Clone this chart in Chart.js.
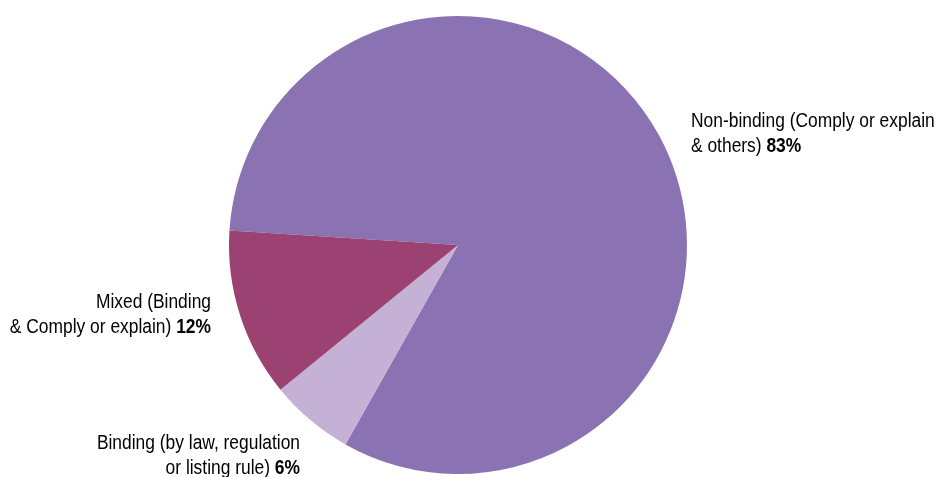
<!DOCTYPE html>
<html>
<head>
<meta charset="utf-8">
<script src="https://cdn.jsdelivr.net/npm/chart.js@4"></script>
<style>
    html, body { margin: 0; padding: 0; background: #ffffff; }
    #wrap { width: 936px; height: 477px; position: relative; }
</style>
</head>
<body>
<div id="wrap"><canvas id="regimeChart"></canvas></div>
<script>
const categories = [
    "Non-binding (Comply or explain & others)",
    "Binding (by law, regulation or listing rule)",
    "Mixed (Binding & Comply or explain)",
];
const shares = [83, 6, 12];
const sliceColors = ["#8b73b3", "#c6b1d6", "#9b4272"];

// label text split into lines; the share is appended in bold on the last line
const labelLines = [
    ["Non-binding (Comply or explain", "& others)"],
    ["Binding (by law, regulation", "or listing rule)"],
    ["Mixed (Binding", "& Comply or explain)"],
];
const labelAnchors = [
    { x: 691, y: 121, align: "left" },
    { x: 300, y: 443, align: "right" },
    { x: 211, y: 302, align: "right" },
];

const labelFont = "Liberation Sans, Arial, sans-serif";
// no narrow face installed, so squeeze the regular one horizontally
const narrowFactor = 0.87;

const outsideLabels = {
    id: "outsideLabels",
    afterDraw(chart) {
        const ctx = chart.ctx;
        const lineHeight = 25;
        const size = 20;

        ctx.save();
        ctx.fillStyle = "#000000";
        ctx.textBaseline = "middle";
        ctx.textAlign = "left";

        labelLines.forEach((lines, i) => {
            const anchor = labelAnchors[i];

            lines.forEach((text, j) => {
                const y = anchor.y + j * lineHeight;
                const isLast = j === lines.length - 1;
                const plain = isLast ? text + " " : text;
                const bold = isLast ? shares[i] + "%" : "";

                ctx.font = `${size}px ${labelFont}`;
                const plainWidth = ctx.measureText(plain).width;
                ctx.font = `bold ${size}px ${labelFont}`;
                const boldWidth = ctx.measureText(bold).width;

                let x = anchor.x;
                if (anchor.align === "right") {
                    x -= (plainWidth + boldWidth) * narrowFactor;
                }

                ctx.save();
                ctx.translate(x, y);
                ctx.scale(narrowFactor, 1);
                ctx.font = `${size}px ${labelFont}`;
                ctx.fillText(plain, 0, 0);
                if (bold) {
                    ctx.font = `bold ${size}px ${labelFont}`;
                    ctx.fillText(bold, plainWidth, 0);
                }
                ctx.restore();
            });
        });

        ctx.restore();
    }
};

new Chart(document.getElementById("regimeChart"), {
    type: "pie",
    data: {
        labels: categories,
        datasets: [{
            data: shares,
            backgroundColor: sliceColors,
            borderWidth: 0,
        }]
    },
    options: {
        responsive: true,
        maintainAspectRatio: false,
        animation: false,
        rotation: -86.4,
        layout: {
            padding: { top: 16, bottom: 3, left: 0, right: 20 }
        },
        plugins: {
            legend: { display: false },
            tooltip: { enabled: false }
        }
    },
    plugins: [outsideLabels]
});
</script>
</body>
</html>
